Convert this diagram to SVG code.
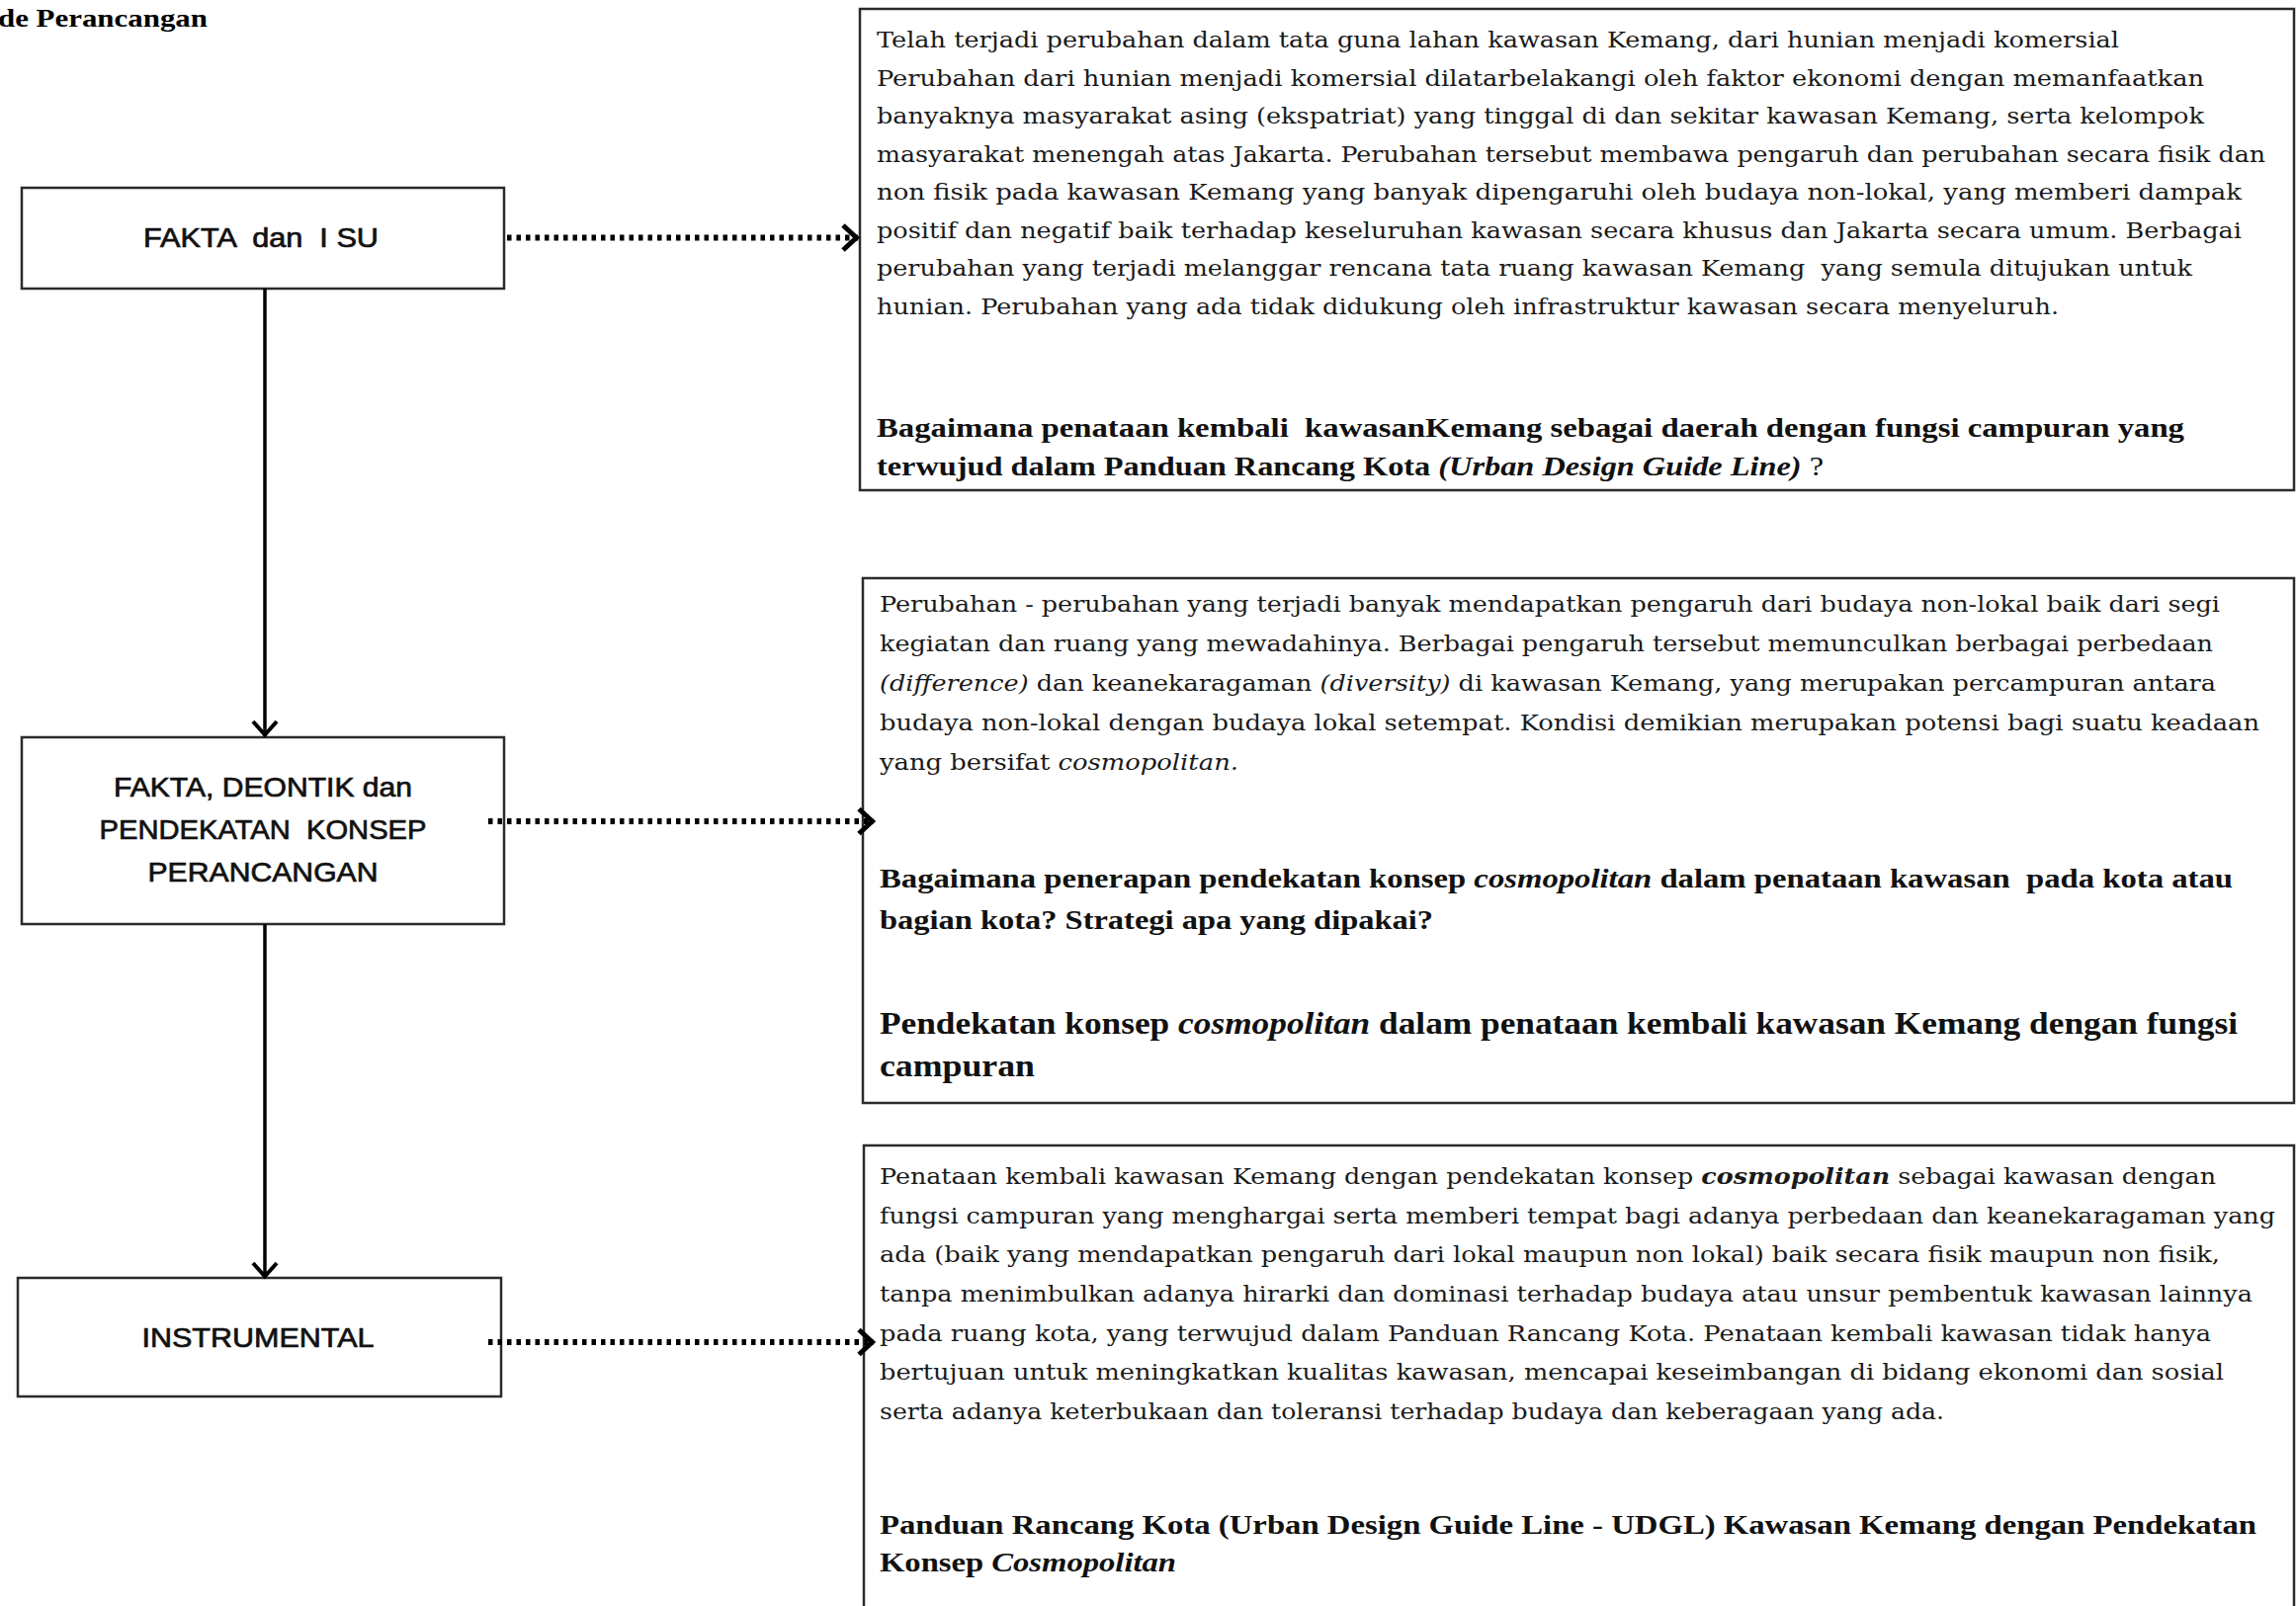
<svg xmlns="http://www.w3.org/2000/svg" width="2323" height="1625" viewBox="0 0 2323 1625">
<style>
  .bg { fill: #ffffff; }
  .box { fill: #ffffff; stroke: #2b2b2b; stroke-width: 2.5; }
  .lbl { font-family: "Liberation Sans", Arial, sans-serif; font-size: 28px; fill: #111; stroke: #111; stroke-width: 0.7; text-anchor: middle; white-space: pre; }
  .title { font-family: "Liberation Serif", "Times New Roman", serif; font-weight: bold; font-size: 26px; fill: #000; }
  .body { font-family: "DejaVu Serif", "Liberation Serif", serif; font-size: 23px; fill: #1a1a1a; white-space: pre; }
  .q { font-family: "Liberation Serif", "Times New Roman", serif; font-weight: bold; font-size: 27px; fill: #111; white-space: pre; }
  .big { font-size: 31px; }
  .i { font-style: italic; }
  .bi { font-style: italic; font-weight: bold; }
  .n { font-weight: normal; }
  .vert { stroke: #000; stroke-width: 3.5; fill: none; }
  .dot { stroke: #000; stroke-width: 6; stroke-dasharray: 4.5 5; fill: none; }
</style>
<defs>
  <marker id="chev" viewBox="-20 -16 24 32" refX="0" refY="0" markerWidth="24" markerHeight="32" markerUnits="userSpaceOnUse" orient="auto" overflow="visible">
    <path d="M-15,-12.5 L-1.5,0 L-15,12.5" fill="none" stroke="#000" stroke-width="5"/>
  </marker>
  <marker id="vee" viewBox="-20 -16 24 32" refX="0" refY="0" markerWidth="24" markerHeight="32" markerUnits="userSpaceOnUse" orient="auto" overflow="visible">
    <path d="M-15,-12 L-1.5,0 L-15,12" fill="none" stroke="#000" stroke-width="4"/>
  </marker>
</defs>
<rect class="bg" x="0" y="0" width="2323" height="1625"/>

<text class="title" x="-2" y="27" textLength="212" lengthAdjust="spacingAndGlyphs">de Perancangan</text>

<g id="node-fakta-isu">
  <rect class="box" x="22" y="190" width="488" height="102"/>
  <text class="lbl" x="264" y="250" textLength="238" lengthAdjust="spacingAndGlyphs">FAKTA  dan  I SU</text>
</g>

<g id="node-fakta-deontik">
  <rect class="box" x="22" y="746" width="488" height="189"/>
  <text class="lbl" x="266" y="806" textLength="302" lengthAdjust="spacingAndGlyphs">FAKTA, DEONTIK dan</text>
  <text class="lbl" x="266" y="849" textLength="331" lengthAdjust="spacingAndGlyphs">PENDEKATAN  KONSEP</text>
  <text class="lbl" x="266" y="892" textLength="233" lengthAdjust="spacingAndGlyphs">PERANCANGAN</text>
</g>

<g id="node-instrumental">
  <rect class="box" x="18" y="1293" width="489" height="120"/>
  <text class="lbl" x="261" y="1363" textLength="235" lengthAdjust="spacingAndGlyphs">INSTRUMENTAL</text>
</g>

<g id="node-desc-1">
  <rect class="box" x="870" y="9" width="1451" height="487"/>
  <text class="body" x="887" y="48" textLength="1257" lengthAdjust="spacingAndGlyphs">Telah terjadi perubahan dalam tata guna lahan kawasan Kemang, dari hunian menjadi komersial</text>
  <text class="body" x="887" y="86.5" textLength="1343" lengthAdjust="spacingAndGlyphs">Perubahan dari hunian menjadi komersial dilatarbelakangi oleh faktor ekonomi dengan memanfaatkan</text>
  <text class="body" x="887" y="125" textLength="1343" lengthAdjust="spacingAndGlyphs">banyaknya masyarakat asing (ekspatriat) yang tinggal di dan sekitar kawasan Kemang, serta kelompok</text>
  <text class="body" x="887" y="163.5" textLength="1405" lengthAdjust="spacingAndGlyphs">masyarakat menengah atas Jakarta. Perubahan tersebut membawa pengaruh dan perubahan secara fisik dan</text>
  <text class="body" x="887" y="202" textLength="1381" lengthAdjust="spacingAndGlyphs">non fisik pada kawasan Kemang yang banyak dipengaruhi oleh budaya non-lokal, yang memberi dampak</text>
  <text class="body" x="887" y="240.5" textLength="1381" lengthAdjust="spacingAndGlyphs">positif dan negatif baik terhadap keseluruhan kawasan secara khusus dan Jakarta secara umum. Berbagai</text>
  <text class="body" x="887" y="279" textLength="1331" lengthAdjust="spacingAndGlyphs">perubahan yang terjadi melanggar rencana tata ruang kawasan Kemang  yang semula ditujukan untuk</text>
  <text class="body" x="887" y="318" textLength="1196" lengthAdjust="spacingAndGlyphs">hunian. Perubahan yang ada tidak didukung oleh infrastruktur kawasan secara menyeluruh.</text>
  <text class="q" x="887" y="442" textLength="1323" lengthAdjust="spacingAndGlyphs">Bagaimana penataan kembali  kawasanKemang sebagai daerah dengan fungsi campuran yang</text>
  <text class="q" x="887" y="481" textLength="958" lengthAdjust="spacingAndGlyphs">terwujud dalam Panduan Rancang Kota <tspan class="bi">(Urban Design Guide Line)</tspan><tspan class="n"> ?</tspan></text>
</g>

<g id="node-desc-2">
  <rect class="box" x="873" y="585" width="1448" height="531"/>
  <text class="body" x="890" y="619" textLength="1356" lengthAdjust="spacingAndGlyphs">Perubahan - perubahan yang terjadi banyak mendapatkan pengaruh dari budaya non-lokal baik dari segi</text>
  <text class="body" x="890" y="659" textLength="1349" lengthAdjust="spacingAndGlyphs">kegiatan dan ruang yang mewadahinya. Berbagai pengaruh tersebut memunculkan berbagai perbedaan</text>
  <text class="body" x="890" y="699" textLength="1352" lengthAdjust="spacingAndGlyphs"><tspan class="i">(difference)</tspan> dan keanekaragaman <tspan class="i">(diversity)</tspan> di kawasan Kemang, yang merupakan percampuran antara</text>
  <text class="body" x="890" y="739" textLength="1396" lengthAdjust="spacingAndGlyphs">budaya non-lokal dengan budaya lokal setempat. Kondisi demikian merupakan potensi bagi suatu keadaan</text>
  <text class="body" x="890" y="779" textLength="363" lengthAdjust="spacingAndGlyphs">yang bersifat <tspan class="i">cosmopolitan.</tspan></text>
  <text class="q" x="890" y="898" textLength="1369" lengthAdjust="spacingAndGlyphs">Bagaimana penerapan pendekatan konsep <tspan class="bi">cosmopolitan</tspan> dalam penataan kawasan  pada kota atau</text>
  <text class="q" x="890" y="940" textLength="560" lengthAdjust="spacingAndGlyphs">bagian kota? Strategi apa yang dipakai?</text>
  <text class="q big" x="890" y="1046" textLength="1374" lengthAdjust="spacingAndGlyphs">Pendekatan konsep <tspan class="bi">cosmopolitan</tspan> dalam penataan kembali kawasan Kemang dengan fungsi</text>
  <text class="q big" x="890" y="1089" textLength="157" lengthAdjust="spacingAndGlyphs">campuran</text>
</g>

<g id="node-desc-3">
  <rect class="box" x="874" y="1159" width="1447" height="480"/>
  <text class="body" x="890" y="1198" textLength="1352" lengthAdjust="spacingAndGlyphs">Penataan kembali kawasan Kemang dengan pendekatan konsep <tspan class="bi">cosmopolitan</tspan> sebagai kawasan dengan</text>
  <text class="body" x="890" y="1238" textLength="1412" lengthAdjust="spacingAndGlyphs">fungsi campuran yang menghargai serta memberi tempat bagi adanya perbedaan dan keanekaragaman yang</text>
  <text class="body" x="890" y="1277" textLength="1356" lengthAdjust="spacingAndGlyphs">ada (baik yang mendapatkan pengaruh dari lokal maupun non lokal) baik secara fisik maupun non fisik,</text>
  <text class="body" x="890" y="1317" textLength="1389" lengthAdjust="spacingAndGlyphs">tanpa menimbulkan adanya hirarki dan dominasi terhadap budaya atau unsur pembentuk kawasan lainnya</text>
  <text class="body" x="890" y="1357" textLength="1347" lengthAdjust="spacingAndGlyphs">pada ruang kota, yang terwujud dalam Panduan Rancang Kota. Penataan kembali kawasan tidak hanya</text>
  <text class="body" x="890" y="1396" textLength="1360" lengthAdjust="spacingAndGlyphs">bertujuan untuk meningkatkan kualitas kawasan, mencapai keseimbangan di bidang ekonomi dan sosial</text>
  <text class="body" x="890" y="1436" textLength="1077" lengthAdjust="spacingAndGlyphs">serta adanya keterbukaan dan toleransi terhadap budaya dan keberagaan yang ada.</text>
  <text class="q" x="890" y="1552" textLength="1393" lengthAdjust="spacingAndGlyphs">Panduan Rancang Kota (Urban Design Guide Line - UDGL) Kawasan Kemang dengan Pendekatan</text>
  <text class="q" x="890" y="1590" textLength="300" lengthAdjust="spacingAndGlyphs">Konsep <tspan class="bi">Cosmopolitan</tspan></text>
</g>

<g id="connectors">
  <line class="vert" x1="268" y1="292" x2="268" y2="745" marker-end="url(#vee)"/>
  <line class="vert" x1="268" y1="935" x2="268" y2="1293" marker-end="url(#vee)"/>
  <line class="dot" x1="513" y1="240.5" x2="868" y2="240.5" marker-end="url(#chev)"/>
  <line class="dot" x1="494" y1="831" x2="884" y2="831" marker-end="url(#chev)"/>
  <line class="dot" x1="494" y1="1358" x2="884" y2="1358" marker-end="url(#chev)"/>
</g>
</svg>
